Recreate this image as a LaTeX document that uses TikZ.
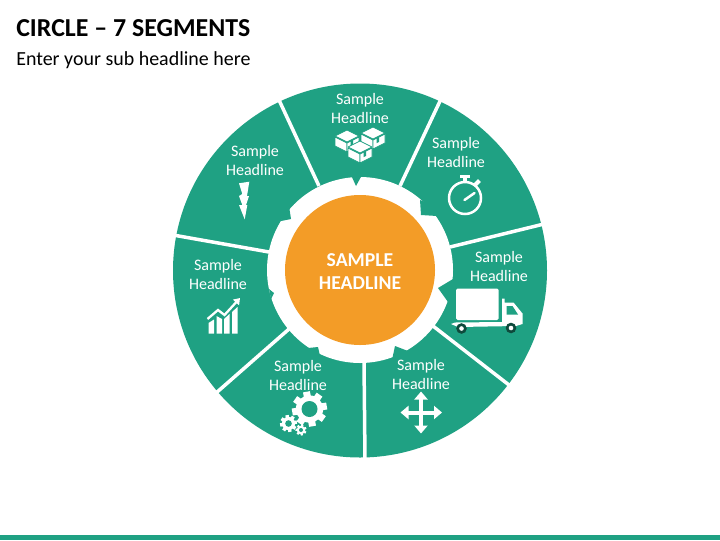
\documentclass[tikz,border=0pt]{standalone}
\usepackage{fontspec}
\setmainfont{Carlito}
\usetikzlibrary{arrows.meta}
\definecolor{segGreen}{RGB}{31,161,131}
\definecolor{hubOrange}{RGB}{243,156,39}
\definecolor{wheelDark}{RGB}{14,74,60}
% cog: centre, outer radius, hole radius, number of teeth
\newcommand{\cogicon}[4]{%
  \fill[white] #1 circle[radius=#2*0.78];
  \foreach \k in {1,...,#4}
    \fill[white,shift={#1},rotate=\k*360/#4+10] (-#2*0.2,0) rectangle (#2*0.2,#2);
  \fill[segGreen] #1 circle[radius=#3];
}
% carton: front-left-top corner offset
\newcommand{\cartonicon}[1]{%
  \begin{scope}[shift={#1},draw=segGreen,line width=0.5pt,fill=white,line join=round]
    \filldraw (-12,-5) -- (0,-11) -- (12,-5) -- (0,1) -- cycle;
    \filldraw (-12,-4) -- (0,2) -- (0,11) -- (-12,5) -- cycle;
    \filldraw (0,2) -- (12,-4) -- (12,5) -- (0,11) -- cycle;
    \fill[segGreen] (3.5,0.2) -- (6,-1) -- (6,4) -- (3.5,5.2) -- cycle;
  \end{scope}
}
\begin{document}
\begin{tikzpicture}[x=0.025cm,y=-0.025cm]
    \tikzstyle{every node} = [text=white,inner sep=0pt]
    \tikzstyle{seglabel} = [align=center,font=\fontsize{11.4}{13.5}\selectfont]
    \tikzstyle{sepline} = [draw=white,line width=3.5*0.025cm]
    \tikzstyle{tooth} = [fill=segGreen]
    \tikzstyle{crossline} = [{Triangle[length=8*0.025cm,width=13*0.025cm]}-{Triangle[length=8*0.025cm,width=13*0.025cm]},white,line width=4*0.025cm]
    \useasboundingbox (0,0) rectangle (720,540);

    % headings and bottom bar
    \node[anchor=west,text=black,font=\fontsize{18.4}{20}\selectfont\bfseries] (titleText) at (16,28) {CIRCLE – 7 SEGMENTS};
    \node[anchor=west,text=black,font=\fontsize{14.2}{16}\selectfont] (subText) at (16,60) {Enter your sub headline here};
    \fill[segGreen] (0,535) rectangle (720,540);

    % ring, gear and hub
    \fill[segGreen] (360,270.5) circle[radius=187];
    \fill[white] (360,270) circle[radius=93];
    \fill[tooth] (351,175) -- (356,186) -- (362,175) -- cycle;
    \fill[tooth] (420,200) -- (421,215) -- (437,216) -- (432,205) -- cycle;
    \fill[tooth] (453,279) -- (438,288) -- (448,302) -- (456,290) -- cycle;
    \fill[tooth] (408,351) -- (395,346) -- (392,360) -- (402,357) -- cycle;
    \fill[tooth] (320,356) -- (318,347) -- (308,348) -- (307,351) -- cycle;
    \fill[tooth] (271,299) -- (274,293) -- (269,289) -- cycle;
    \fill[tooth] (281,221) -- (291,219) -- (289,206) -- (283,212) -- cycle;
    \node[circle,fill=hubOrange,minimum size=150*0.025cm] (hubNode) at (360,270) {};
    \node[align=center,font=\fontsize{14}{16.4}\selectfont\bfseries] (hubText) at (360,271.5) {SAMPLE\\HEADLINE};

    % separators
    \draw[sepline] (319,186) -- (279,100);
    \draw[sepline] (400,186) -- (441,99);
    \draw[sepline] (450,247) -- (544,224);
    \draw[sepline] (433,326) -- (509,385);
    \draw[sepline] (364,362) -- (365,460);
    \draw[sepline] (289,329) -- (216,393);
    \draw[sepline] (269,252) -- (173,235);

    % labels
    \node[seglabel] (segTop) at (360,108) {Sample\\Headline};
    \node[seglabel] (segUpRight) at (456,152) {Sample\\Headline};
    \node[seglabel] (segRight) at (499,266) {Sample\\Headline};
    \node[seglabel] (segLowRight) at (421,374) {Sample\\Headline};
    \node[seglabel] (segLowLeft) at (298,375) {Sample\\Headline};
    \node[seglabel] (segLeft) at (218,274) {Sample\\Headline};
    \node[seglabel] (segUpLeft) at (255,160) {Sample\\Headline};

    % cartons
    \cartonicon{(347,141)}
    \cartonicon{(373,138)}
    \cartonicon{(360,152)}

    % stopwatch
    \draw[white,line width=2.5*0.025cm] (465,198) circle[radius=16];
    \fill[white] (460,174.5) rectangle (470,178);
    \fill[white] (463,178) rectangle (467,182);
    \fill[white,rotate around={45:(477,183)}] (473.5,181) rectangle (480.5,185);
    \draw[white,line width=2.5*0.025cm,line cap=round] (464.5,200) -- (474.5,193);

    % truck
    \fill[white,rounded corners=1.5*0.025cm] (456,288.5) rectangle (498.5,320);
    \fill[white] (451,324) -- (455,322.5) -- (502,322) -- (502,298.5) -- (504.5,298.5) -- (504.5,302.5) -- (513.5,302.5) -- (522.5,313.5) -- (522.5,324) -- (516,326) -- (458,327) -- cycle;
    \fill[segGreen] (506.5,306) -- (512.5,306) -- (518,314.5) -- (506.5,314.5) -- cycle;
    \foreach \wx/\wy in {461.5/328.5,511/328}{
      \fill[wheelDark] (\wx,\wy) circle[radius=5.3];
      \fill[white] (\wx,\wy) circle[radius=2.3];
    }

    % cross of arrows
    \coordinate (crossW) at (400.5,412.5);
    \coordinate (crossE) at (442,412.5);
    \coordinate (crossN) at (421,391.5);
    \coordinate (crossS) at (421,433.5);
    \draw[crossline] (crossW) -- (crossE);
    \draw[crossline] (crossN) -- (crossS);

    % cogs
    \cogicon{(309.5,409)}{17.5}{8}{8}
    \cogicon{(288.5,423.5)}{8.5}{3.3}{8}
    \cogicon{(301,430)}{5.5}{2}{7}

    % chart
    \fill[white] (208.5,333.5) -- (208.5,323) -- (214,319.5) -- (214,333.5) -- cycle;
    \fill[white] (216.5,333.5) -- (216.5,316) -- (222,319) -- (222,333.5) -- cycle;
    \fill[white] (224,333.5) -- (224,319) -- (229.5,314) -- (229.5,333.5) -- cycle;
    \fill[white] (232,333.5) -- (232,312) -- (237.5,307) -- (237.5,333.5) -- cycle;
    \draw[white,line width=2.3*0.025cm,-{Triangle[length=6*0.025cm,width=8*0.025cm]}] (207.5,319) -- (218,310) -- (224.5,315) -- (240,298);

    % lightning
    \fill[white] (239,183.3) -- (249.3,181.7) -- (247,196) -- (249,196) -- (246,205) -- (247.3,205) -- (244.7,219.3) -- (239,205) -- (242.3,205) -- (239,196) -- (242.3,194) -- cycle;
\end{tikzpicture}
\end{document}
